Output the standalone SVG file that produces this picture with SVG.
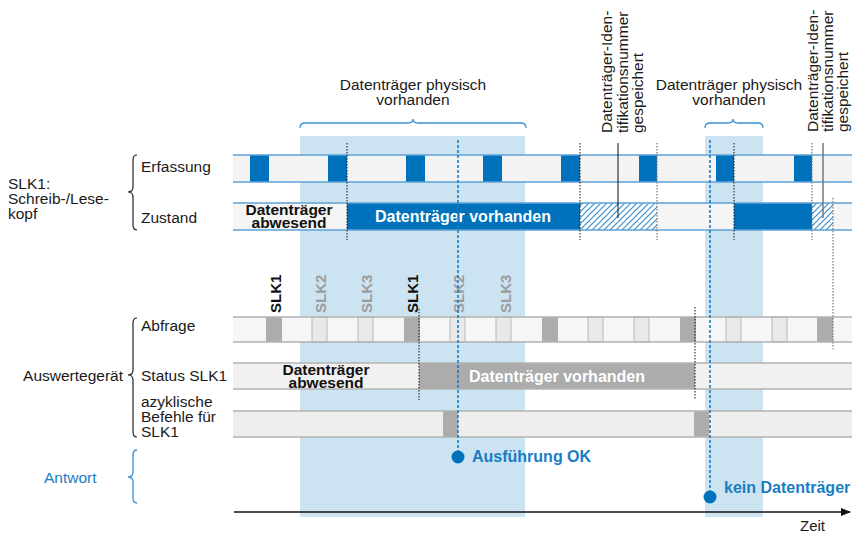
<svg xmlns="http://www.w3.org/2000/svg" width="852" height="533" viewBox="0 0 852 533">
<style>
text{font-family:"Liberation Sans",Arial,sans-serif;}
.lbl{font-size:15.5px;fill:#1a1a1a;}
.b{font-size:15.5px;font-weight:bold;}
.bw{fill:#ffffff;}
.bk{fill:#111111;}
.blue{fill:#1a7dc2;}
.slk1{font-size:15px;font-weight:bold;fill:#111;}
.slk2{font-size:15px;font-weight:bold;fill:#9c9c9c;}
.band{fill:#cce3f1;}
.rowb{stroke:#5fa3d8;stroke-width:1.6;fill:none;}
.rowg{stroke:#b3b3b3;stroke-width:1.6;fill:none;}
.blk{fill:#0072bc;}
.dk{fill:#acacac;}
.cell{fill:#e9e9e9;stroke:#b8b8b8;stroke-width:1;}
.dot{stroke:#111;stroke-width:1;stroke-dasharray:1.5 1.5;fill:none;}
.dotg{stroke:#777;stroke-width:1.2;stroke-dasharray:1.5 1.5;fill:none;}
.bdash{stroke:#1a7dc2;stroke-width:1.6;stroke-dasharray:3 2;fill:none;}
.brace{stroke:#222;stroke-width:1.2;fill:none;}
.braceb{stroke:#3a8fd0;stroke-width:1.3;fill:none;}
</style>
<defs>
<pattern id="hatch" patternUnits="userSpaceOnUse" width="6" height="6">
<rect width="6" height="6" fill="#ffffff"/>
<path d="M-1,7 L7,-1 M-4,4 L4,-4 M2,10 L10,2" stroke="#3a8fd0" stroke-width="1.2"/>
</pattern>
<marker id="arr" markerWidth="10" markerHeight="8" refX="9" refY="4" orient="auto" markerUnits="userSpaceOnUse">
<path d="M0,0 L10,4 L0,8 Z" fill="#111"/>
</marker>
</defs>

<g id="bands">
<rect class="band" x="300" y="136" width="225" height="381"/>
<rect class="band" x="705" y="136" width="58" height="381"/>
</g>

<g id="top-labels">
<g id="physisch1">
<text class="lbl" x="413" y="90" text-anchor="middle">Datenträger physisch</text>
<text class="lbl" x="413" y="105" text-anchor="middle">vorhanden</text>
<path class="braceb" d="M300,128 Q300,123 305,123 L408,123 Q413,123 413,119 Q413,123 418,123 L521,123 Q526,123 526,128"/>
</g>
<g id="physisch2">
<text class="lbl" x="729" y="90" text-anchor="middle">Datenträger physisch</text>
<text class="lbl" x="729" y="105" text-anchor="middle">vorhanden</text>
<path class="braceb" d="M705,128 Q705,123 710,123 L728,123 Q733,123 733,119 Q733,123 738,123 L758,123 Q763,123 763,128"/>
</g>
<g id="ident1">
<text class="lbl" transform="translate(612,133) rotate(-90)">Datenträger-Iden-</text>
<text class="lbl" transform="translate(627.5,133) rotate(-90)">tifikationsnummer</text>
<text class="lbl" transform="translate(643,133) rotate(-90)">gespeichert</text>
</g>
<g id="ident2">
<text class="lbl" transform="translate(818,132) rotate(-90)">Datenträger-Iden-</text>
<text class="lbl" transform="translate(833,132) rotate(-90)">tifikationsnummer</text>
<text class="lbl" transform="translate(848,132) rotate(-90)">gespeichert</text>
</g>
</g>

<g id="left-labels">
<g id="slk1-head">
<text class="lbl" x="8" y="189">SLK1:</text>
<text class="lbl" x="8" y="204">Schreib-/Lese-</text>
<text class="lbl" x="8" y="219">kopf</text>
<path class="brace" d="M137,155 Q133,155 133,160 L133,187 Q133,192 128,192 Q133,192 133,197 L133,225 Q133,230 137,230"/>
<text class="lbl" x="141" y="172">Erfassung</text>
<text class="lbl" x="141" y="223">Zustand</text>
</g>
<g id="auswertegeraet">
<text class="lbl" x="123" y="381" text-anchor="end">Auswertegerät</text>
<path class="brace" d="M137,318 Q133,318 133,323 L133,370 Q133,375 128,375 Q133,375 133,380 L133,432 Q133,437 137,437"/>
<text class="lbl" x="141" y="331">Abfrage</text>
<text class="lbl" x="141" y="381">Status SLK1</text>
<text class="lbl" x="141" y="407">azyklische</text>
<text class="lbl" x="141" y="422">Befehle für</text>
<text class="lbl" x="141" y="437">SLK1</text>
</g>
<g id="antwort">
<text class="lbl" x="44" y="483" style="fill:#1a7dc2">Antwort</text>
<path class="braceb" d="M137,450 Q133,450 133,455 L133,472 Q133,477 128,477 Q133,477 133,482 L133,498 Q133,503 137,503"/>
</g>
</g>

<g id="row-erfassung">
<rect x="233" y="155" width="619" height="27" fill="#f3f3f3"/>
<rect class="blk" x="250" y="155" width="19" height="27"/>
<rect class="blk" x="328" y="155" width="19" height="27"/>
<rect class="blk" x="406" y="155" width="19" height="27"/>
<rect class="blk" x="483" y="155" width="19" height="27"/>
<rect class="blk" x="561" y="155" width="19" height="27"/>
<rect class="blk" x="639" y="155" width="18" height="27"/>
<rect class="blk" x="716" y="155" width="18" height="27"/>
<rect class="blk" x="794" y="155" width="18" height="27"/>
<path class="rowb" d="M233,155 H852 M233,182 H852"/>
</g>

<g id="row-zustand">
<rect x="233" y="203" width="619" height="27" fill="#f5f5f5"/>
<rect class="blk" x="347" y="203" width="233" height="27"/>
<rect x="580" y="203" width="77" height="27" fill="url(#hatch)"/>
<rect class="blk" x="734" y="203" width="78" height="27"/>
<rect x="812" y="203" width="21" height="27" fill="url(#hatch)"/>
<path class="rowb" d="M233,203 H852 M233,230 H852"/>
<text class="b bk" x="289" y="215" text-anchor="middle">Datenträger</text>
<text class="b bk" x="289" y="228" text-anchor="middle">abwesend</text>
<text class="b bw" x="463" y="222" text-anchor="middle" style="font-size:16px">Datenträger vorhanden</text>
</g>

<g id="slk-labels">
<text class="slk1" transform="translate(281,313) rotate(-90)">SLK1</text>
<text class="slk2" transform="translate(326,313) rotate(-90)">SLK2</text>
<text class="slk2" transform="translate(372,313) rotate(-90)">SLK3</text>
<text class="slk1" transform="translate(418,313) rotate(-90)">SLK1</text>
<text class="slk2" transform="translate(464,313) rotate(-90)">SLK2</text>
<text class="slk2" transform="translate(511,313) rotate(-90)">SLK3</text>
</g>

<g id="row-abfrage">
<rect x="233" y="317" width="619" height="25" fill="#f6f6f6"/>
<rect class="dk" x="266" y="317" width="16" height="25"/>
<rect class="cell" x="312" y="317" width="15" height="25"/>
<rect class="cell" x="358" y="317" width="15" height="25"/>
<rect class="dk" x="404" y="317" width="16" height="25"/>
<rect class="cell" x="450" y="317" width="15" height="25"/>
<rect class="cell" x="496" y="317" width="15" height="25"/>
<rect class="dk" x="542" y="317" width="16" height="25"/>
<rect class="cell" x="588" y="317" width="15" height="25"/>
<rect class="cell" x="634" y="317" width="15" height="25"/>
<rect class="dk" x="680" y="317" width="16" height="25"/>
<rect class="cell" x="726" y="317" width="15" height="25"/>
<rect class="cell" x="772" y="317" width="15" height="25"/>
<rect class="dk" x="817" y="317" width="16" height="25"/>
<path class="rowg" d="M233,317 H852 M233,342 H852"/>
</g>

<g id="row-status">
<rect x="233" y="363" width="619" height="26" fill="#f1f1f1"/>
<rect class="dk" x="419" y="363" width="276" height="26"/>
<path class="rowg" d="M233,363 H852 M233,389 H852"/>
<text class="b bk" x="326" y="375" text-anchor="middle">Datenträger</text>
<text class="b bk" x="326" y="388" text-anchor="middle">abwesend</text>
<text class="b bw" x="557" y="382" text-anchor="middle" style="font-size:16px">Datenträger vorhanden</text>
</g>

<g id="row-azyklisch">
<rect x="233" y="411" width="619" height="26" fill="#eeeeee"/>
<rect class="dk" x="443" y="411" width="15" height="26"/>
<rect class="dk" x="694" y="411" width="15" height="26"/>
<path class="rowg" d="M233,411 H852 M233,437 H852"/>
</g>

<g id="connectors">
<path class="dot" d="M347,143 V240"/>
<path class="dot" d="M580,143 V240"/>
<path class="dotg" d="M657,143 V240"/>
<path class="dot" d="M734,143 V240"/>
<path class="dotg" d="M812,143 V240"/>
<path class="dotg" d="M833,198 V349"/>
<path class="dot" d="M419,309 V400"/>
<path class="dot" d="M695,307 V400"/>
<path d="M618,143 V218" stroke="#111" stroke-width="1" fill="none"/>
<path d="M823,143 V218" stroke="#777" stroke-width="1.5" fill="none"/>
<path class="bdash" d="M458,140 V457"/>
<path class="bdash" d="M710,140 V497"/>
<circle cx="458" cy="457" r="6.5" fill="#0072bc"/>
<circle cx="710" cy="497" r="6.5" fill="#0072bc"/>
<path d="M234,512 H850" stroke="#111" stroke-width="1.3" marker-end="url(#arr)"/>
</g>

<g id="responses">
<text class="b blue" x="472" y="462" style="font-size:16px">Ausführung OK</text>
<text class="b blue" x="724" y="493" style="font-size:16px">kein Datenträger</text>
<text class="lbl" x="800" y="531" style="font-size:15px">Zeit</text>
</g>
</svg>
